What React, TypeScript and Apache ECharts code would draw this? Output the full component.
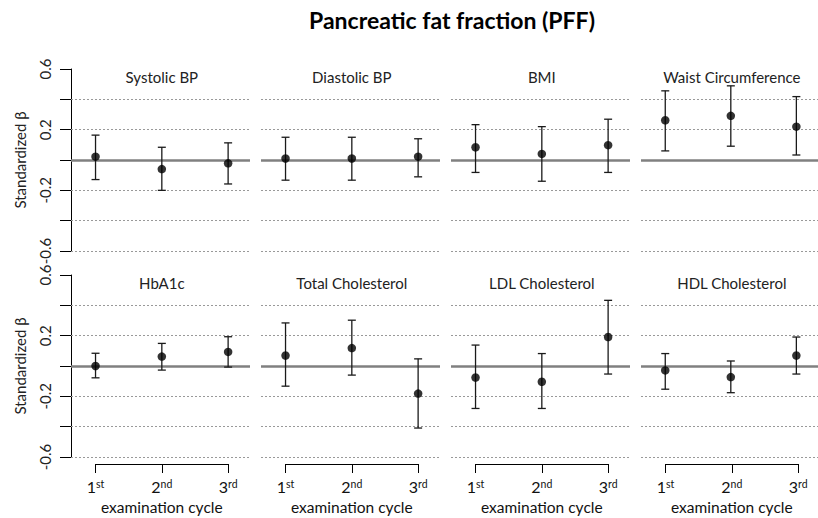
import React, { useEffect, useRef } from "react";
import * as echarts from "echarts";

const mainTitle = "Pancreatic fat fraction (PFF)";
const panelTitles = [
  "Systolic BP",
  "Diastolic BP",
  "BMI",
  "Waist Circumference",
  "HbA1c",
  "Total Cholesterol",
  "LDL Cholesterol",
  "HDL Cholesterol",
];
const cycles = [1, 2, 3];
const cycleNumbers = ["1", "2", "3"];
const cycleSuffixes = ["st", "nd", "rd"];

const estimates = [
  [0.022, -0.06, -0.022],
  [0.01, 0.01, 0.022],
  [0.084, 0.04, 0.098],
  [0.262, 0.291, 0.22],
  [0.0, 0.062, 0.093],
  [0.069, 0.118, -0.182],
  [-0.076, -0.104, 0.191],
  [-0.029, -0.073, 0.069],
];
const lowerCI = [
  [-0.129, -0.2, -0.158],
  [-0.133, -0.133, -0.111],
  [-0.082, -0.14, -0.082],
  [0.06, 0.091, 0.033],
  [-0.078, -0.027, -0.007],
  [-0.133, -0.06, -0.409],
  [-0.28, -0.28, -0.053],
  [-0.153, -0.176, -0.053],
];
const upperCI = [
  [0.164, 0.084, 0.113],
  [0.15, 0.15, 0.14],
  [0.233, 0.22, 0.269],
  [0.456, 0.489, 0.418],
  [0.084, 0.149, 0.193],
  [0.284, 0.302, 0.047],
  [0.138, 0.082, 0.433],
  [0.082, 0.033, 0.191],
];
const yTickLabels = [0.6, 0.2, -0.2, -0.6];
const dottedLevels = [0.4, 0.2, -0.2, -0.4, -0.6];
const yLabel = "Standardized β";
const xLabel = "examination cycle";

export default function App() {
  const ref = useRef<HTMLDivElement>(null);
  useEffect(() => {
    if (!ref.current) return;
    const chart = echarts.init(ref.current, undefined, { renderer: "svg" });
    const font = "Lato";
    const xMin = 0.63;
    const xMax = 3.33;
    const pw = 179;
    const ph = 182;
    const colLeft = (c: number) => 71 + c * 190;
    const rowTop = (r: number) => (r === 0 ? 69 : 275);

    const grids: any[] = [];
    const xAxes: any[] = [];
    const yAxes: any[] = [];
    const series: any[] = [];
    const titles: any[] = [
      {
        text: mainTitle,
        left: 452,
        top: 8,
        textAlign: "center",
        padding: 0,
        textStyle: { fontFamily: font, fontWeight: "bold", fontSize: 23, color: "#000" },
      },
    ];

    panelTitles.forEach((t, i) => {
      const c = i % 4;
      const r = Math.floor(i / 4);
      const left = colLeft(c);
      const top = rowTop(r);
      grids.push({ left, top, width: pw, height: ph });
      xAxes.push({
        gridIndex: i,
        type: "value",
        min: xMin,
        max: xMax,
        show: false,
        splitLine: { show: false },
      });
      const isLeft = c === 0;
      yAxes.push({
        gridIndex: i,
        type: "value",
        min: -0.6,
        max: 0.6,
        interval: 0.2,
        show: isLeft,
        name: isLeft ? yLabel : "",
        nameLocation: "middle",
        nameRotate: 90,
        nameGap: 44,
        nameTextStyle: { fontFamily: font, fontSize: 15, color: "#222" },
        axisLine: { show: true, lineStyle: { color: "#000", width: 1 } },
        axisTick: { show: true, length: 11, lineStyle: { color: "#000", width: 1 } },
        splitLine: { show: false },
        axisLabel: {
          show: true,
          rotate: 90,
          margin: 19,
          showMinLabel: true,
          showMaxLabel: true,
          fontFamily: font,
          fontSize: 15,
          color: "#222",
          formatter: (v: number) => {
            const rv = Math.round(v * 10) / 10;
            return yTickLabels.includes(rv) ? String(rv) : "";
          },
        },
      });
      titles.push({
        text: t,
        left: left + ((2 - xMin) / (xMax - xMin)) * pw,
        top: top,
        textAlign: "center",
        padding: 0,
        textStyle: { fontFamily: font, fontWeight: "normal", fontSize: 15, color: "#222" },
      });

      const errData = cycles.map((x, j) => [x, lowerCI[i][j], upperCI[i][j]]);
      series.push({
        type: "custom",
        xAxisIndex: i,
        yAxisIndex: i,
        z: 3,
        silent: true,
        encode: { x: 0, y: [1, 2] },
        data: errData,
        renderItem: (params: any, api: any) => {
          const x = api.value(0);
          const lo = api.coord([x, api.value(1)]);
          const hi = api.coord([x, api.value(2)]);
          const cap = 4;
          const style = { stroke: "#1a1a1a", lineWidth: 1.3 };
          return {
            type: "group",
            children: [
              { type: "line", shape: { x1: lo[0], y1: lo[1], x2: hi[0], y2: hi[1] }, style },
              { type: "line", shape: { x1: lo[0] - cap, y1: lo[1], x2: lo[0] + cap, y2: lo[1] }, style },
              { type: "line", shape: { x1: hi[0] - cap, y1: hi[1], x2: hi[0] + cap, y2: hi[1] }, style },
            ],
          };
        },
        markLine: {
          z: 1,
          silent: true,
          symbol: ["none", "none"],
          label: { show: false },
          data: [
            ...dottedLevels.map((v) => ({
              yAxis: v,
              lineStyle: { type: [2, 2], color: "#999", width: 1 },
            })),
            { yAxis: 0, lineStyle: { type: "solid", color: "#808080", width: 2.5 } },
          ],
        },
      });
      series.push({
        type: "scatter",
        xAxisIndex: i,
        yAxisIndex: i,
        z: 4,
        silent: true,
        symbol: "circle",
        symbolSize: 8.5,
        itemStyle: { color: "#000" },
        data: cycles.map((x, j) => [x, estimates[i][j]]),
      });
    });

    // bottom axis grids (R-style axis spanning only the cycles)
    for (let c = 0; c < 4; c++) {
      const gi = grids.length;
      const left = colLeft(c) + ((cycles[0] - xMin) / (xMax - xMin)) * pw;
      const width = ((cycles[2] - cycles[0]) / (xMax - xMin)) * pw;
      grids.push({ left, top: rowTop(1), width, height: ph });
      xAxes.push({
        gridIndex: gi,
        type: "value",
        min: 1,
        max: 3,
        interval: 1,
        position: "bottom",
        offset: 7,
        name: xLabel,
        nameLocation: "middle",
        nameGap: 35,
        nameTextStyle: { fontFamily: font, fontSize: 15.5, color: "#111" },
        axisLine: { show: true, onZero: false, lineStyle: { color: "#000", width: 1 } },
        axisTick: { show: true, length: 9, lineStyle: { color: "#000", width: 1 } },
        splitLine: { show: false },
        axisLabel: {
          show: true,
          margin: 10,
          formatter: (v: number) => {
            const k = cycles.indexOf(Math.round(v));
            return k < 0 ? "" : `{n|${cycleNumbers[k]}}{s|${cycleSuffixes[k]}}`;
          },
          rich: {
            n: { fontFamily: font, fontSize: 16, lineHeight: 20, verticalAlign: "bottom", color: "#111" },
            s: {
              fontFamily: font,
              fontSize: 10.5,
              lineHeight: 10,
              verticalAlign: "top",
              padding: [4, 0, 0, 0],
              color: "#111",
            },
          },
        },
      });
      yAxes.push({ gridIndex: gi, type: "value", min: -0.6, max: 0.6, show: false });
    }

    chart.setOption({
      animation: false,
      backgroundColor: "#fff",
      textStyle: { fontFamily: font },
      title: titles,
      grid: grids,
      xAxis: xAxes,
      yAxis: yAxes,
      series,
    });
    return () => chart.dispose();
  }, []);
  return (
    <div
      ref={ref}
      style={{ position: "fixed", left: 0, top: 0, width: 818, height: 518, background: "#fff" }}
    />
  );
}
